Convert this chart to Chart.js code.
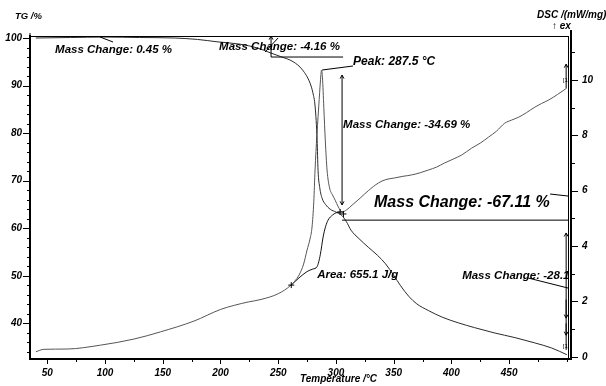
<!DOCTYPE html>
<html>
<head>
<meta charset="utf-8">
<script src="https://cdn.jsdelivr.net/npm/chart.js@4.4.0/dist/chart.umd.min.js"></script>
<style>
  html, body { margin: 0; padding: 0; background: #fff; }
</style>
</head>
<body>
<canvas id="c" width="606" height="386"></canvas>
<script>
// TG curve (temperature in °C, mass in %)
const tgTemp = [40, 70, 100, 130, 160, 180, 197, 217, 232, 243, 252, 263, 271, 277.6, 280, 282, 283.7, 284.5, 286, 288, 291, 295, 300, 305, 309, 313, 320, 328, 336, 343, 350, 356, 363, 370, 380, 392, 406, 420, 437, 455, 472, 487, 500];
const tgMass = [100.0, 100.1, 100.2, 100.1, 100.0, 99.7, 99.2, 98.7, 97.9, 96.9, 96.1, 95.0, 93.3, 90.5, 88.5, 85.5, 78.5, 72.2, 68.5, 66.3, 65.0, 64.0, 63.4, 62.7, 61.4, 59.6, 57.8, 56.0, 54.3, 52.5, 50.1, 47.9, 45.7, 44.1, 42.7, 41.3, 40.1, 39.1, 38.0, 37.0, 35.9, 34.8, 33.4];

// DSC curve (mW/mg)
const dscTemp = [40, 47, 67, 96, 125, 148, 177, 200, 212, 224, 235, 250, 261, 268, 272, 275, 277.5, 279.3, 280.8, 281.9, 283.5, 285.5, 287, 287.5, 288.3, 289.5, 290.8, 292.3, 294.5, 297, 299.3, 302, 305.3, 309, 314, 320.9, 328, 336.8, 343, 350.7, 358, 365.5, 373, 380.2, 387, 394, 402, 408.9, 417.6, 425, 432.3, 439, 446.2, 452, 458.4, 465, 472.3, 478, 484.4, 492, 500];
const dscValue = [0.18, 0.27, 0.28, 0.42, 0.64, 0.90, 1.29, 1.71, 1.86, 1.98, 2.07, 2.28, 2.59, 2.95, 3.35, 3.86, 4.25, 4.69, 5.6, 6.75, 8.0, 9.3, 10.2, 10.36, 10.1, 9.0, 7.8, 6.75, 6.1, 5.85, 5.66, 5.42, 5.23, 5.3, 5.48, 5.73, 6.0, 6.28, 6.4, 6.46, 6.52, 6.57, 6.65, 6.75, 6.85, 7.0, 7.15, 7.29, 7.54, 7.72, 7.94, 8.15, 8.44, 8.55, 8.66, 8.82, 9.02, 9.15, 9.28, 9.48, 9.71];

// peak integration baseline (sigmoid)
const baseTemp = [261.3, 268, 275, 280, 283.7, 286.5, 288.9, 291, 293.2, 297, 300, 303.6];
const baseValue = [2.59, 2.85, 3.08, 3.17, 3.26, 3.7, 4.33, 4.7, 4.94, 5.12, 5.2, 5.23];

// labelled ticks
const tempTicks = [50, 100, 150, 200, 250, 300, 350, 400, 450];
const tgTicks = [40, 50, 60, 70, 80, 90, 100];
const dscTicks = [0, 2, 4, 6, 8, 10];

const FONT = '"Liberation Sans", Arial, "DejaVu Sans", sans-serif';
const pts = (xs, ys) => xs.map((x, i) => ({ x: x, y: ys[i] }));

// annotation texts and marks, placed in data units
const notes = [
  { text: 'Mass Change: 0.45 %', t: 56.7, v: 97.5, ax: 'tg', size: 11.5 },
  { text: 'Mass Change: -4.16 %', t: 198.8, v: 98.1, ax: 'tg', size: 11.5 },
  { text: 'Peak: 287.5 \u00b0C', t: 314.8, v: 94.95, ax: 'tg', size: 12 },
  { text: 'Mass Change: -34.69 %', t: 306.2, v: 81.7, ax: 'tg', size: 11.5 },
  { text: 'Mass Change: -67.11 %', t: 333, v: 65.3, ax: 'tg', size: 16 },
  { text: 'Area: 655.1 J/g', t: 283.7, v: 50.3, ax: 'tg', size: 11.5 },
  { text: 'Mass Change: -28.1', t: 409.3, v: 49.9, ax: 'tg', size: 11.5 }
];
const marks = [
  { ax: 'tg', p: [[95.6, 100.21], [106.9, 99.16]] },
  { ax: 'tg', p: [[243.8, 96.0], [306.2, 96.0]] },
  { ax: 'tg', p: [[243.8, 96.0], [243.8, 100.4]], head: 'end' },
  { ax: 'tg', p: [[238.6, 97.06], [249.9, 100.0]] },
  { ax: 'tg', p: [[288.0, 93.27], [314.8, 94.11]] },
  { ax: 'tg', p: [[305.3, 92.2], [305.3, 64.9]], head: 'both' },
  { ax: 'tg', p: [[305.3, 61.7], [501, 61.7]] },
  { ax: 'tg', p: [[485.5, 67.19], [501, 66.77]] },
  { ax: 'tg', p: [[466.5, 49.53], [501, 47.42]] },
  { ax: 'tg', p: [[499.4, 34.4], [499.4, 59.0]], head: 'end' },
  { ax: 'tg', p: [[499.4, 45.0], [499.4, 41.1]], head: 'end' },
  { ax: 'tg', p: [[499.4, 40.0], [499.4, 37.5]], head: 'end' },
  { ax: 'tg', p: [[499.4, 89.5], [499.4, 94.5]], head: 'end' }
];
const crosses = [
  { ax: 'dsc', t: 261.3, v: 2.59 },
  { ax: 'dsc', t: 303.6, v: 5.23 },
  { ax: 'tg', t: 306.5, v: 63.0 }
];
const tags = [
  { text: '[1]', t: 496.5, v: 91.2, ax: 'tg' },
  { text: '[1]', t: 496.5, v: 35.2, ax: 'tg' }
];

function arrow(ctx, x1, y1, x2, y2) {
  const a = Math.atan2(y2 - y1, x2 - x1), s = 4;
  ctx.beginPath();
  ctx.moveTo(x2 - s * Math.cos(a - 0.5), y2 - s * Math.sin(a - 0.5));
  ctx.lineTo(x2, y2);
  ctx.lineTo(x2 - s * Math.cos(a + 0.5), y2 - s * Math.sin(a + 0.5));
  ctx.stroke();
}

const decor = {
  id: 'decor',
  afterDraw(chart) {
    const ctx = chart.ctx, a = chart.chartArea, sc = chart.scales;
    const X = v => sc.x.getPixelForValue(v);
    ctx.save();
    ctx.strokeStyle = '#000';
    ctx.fillStyle = '#000';
    ctx.lineWidth = 1;

    // frame: top line, second right axis line, extensions
    ctx.beginPath();
    ctx.moveTo(a.left, a.top + 0.5); ctx.lineTo(a.right, a.top + 0.5);
    ctx.moveTo(a.left, a.top - 3); ctx.lineTo(a.left, a.top);
    ctx.stroke();
    ctx.lineWidth = 2;
    ctx.beginPath();
    ctx.moveTo(a.right + 3, a.top - 6); ctx.lineTo(a.right + 3, a.bottom + 1);
    ctx.moveTo(a.left, a.bottom); ctx.lineTo(a.right + 4, a.bottom);
    ctx.stroke();

    // tick marks
    ctx.lineWidth = 1;
    ctx.beginPath();
    sc.x.ticks.forEach(t => {
      const p = Math.round(X(t.value)) + 0.5;
      const len = tempTicks.includes(t.value) ? 4 : 2;
      ctx.moveTo(p, a.bottom); ctx.lineTo(p, a.bottom + 1 + len);
    });
    sc.tg.ticks.forEach(t => {
      const p = Math.round(sc.tg.getPixelForValue(t.value)) + 0.5;
      const len = tgTicks.includes(t.value) ? 6 : 2;
      ctx.moveTo(a.left - 1, p); ctx.lineTo(a.left - 1 - len, p);
    });
    sc.dsc.ticks.forEach(t => {
      const p = Math.round(sc.dsc.getPixelForValue(t.value)) + 0.5;
      const len = dscTicks.includes(t.value) ? 6 : 3;
      ctx.moveTo(a.right + 4, p); ctx.lineTo(a.right + 4 + len, p);
    });
    ctx.stroke();

    // axis titles
    ctx.font = 'italic bold 9.5px ' + FONT;
    ctx.textBaseline = 'middle';
    ctx.textAlign = 'left';
    ctx.fillText('TG /%', 15, 16);
    ctx.font = 'italic bold 10px ' + FONT;
    ctx.fillText('DSC /(mW/mg)', 537, 15);
    ctx.fillText('\u2191 ex', 552, 26);
    ctx.fillText('Temperature /\u00b0C', 300, 379);

    // annotation marks
    marks.forEach(m => {
      const Y = v => sc[m.ax].getPixelForValue(v);
      const q = m.p.map(p => [X(p[0]), Y(p[1])]);
      ctx.beginPath();
      ctx.moveTo(q[0][0], q[0][1]); ctx.lineTo(q[1][0], q[1][1]);
      ctx.stroke();
      if (m.head === 'end' || m.head === 'both') arrow(ctx, q[0][0], q[0][1], q[1][0], q[1][1]);
      if (m.head === 'both') arrow(ctx, q[1][0], q[1][1], q[0][0], q[0][1]);
    });
    crosses.forEach(c => {
      const x = X(c.t), y = sc[c.ax].getPixelForValue(c.v);
      ctx.beginPath();
      ctx.moveTo(x - 3, y); ctx.lineTo(x + 3, y);
      ctx.moveTo(x, y - 3); ctx.lineTo(x, y + 3);
      ctx.stroke();
    });

    // annotation texts
    notes.forEach(n => {
      ctx.font = 'italic bold ' + n.size + 'px ' + FONT;
      ctx.fillText(n.text, X(n.t), sc[n.ax].getPixelForValue(n.v));
    });
    ctx.font = '6px ' + FONT;
    tags.forEach(n => ctx.fillText(n.text, X(n.t), sc[n.ax].getPixelForValue(n.v)));
    ctx.restore();
  }
};

const tickFont = { family: FONT, size: 10, style: 'italic', weight: 'bold' };

new Chart(document.getElementById('c'), {
  type: 'line',
  data: {
    datasets: [
      { label: 'TG', data: pts(tgTemp, tgMass), yAxisID: 'tg', borderColor: '#2a2a2a', borderWidth: 1, pointRadius: 0, cubicInterpolationMode: 'monotone' },
      { label: 'DSC', data: pts(dscTemp, dscValue), yAxisID: 'dsc', borderColor: '#555', borderWidth: 1, pointRadius: 0, cubicInterpolationMode: 'monotone' },
      { label: 'Baseline', data: pts(baseTemp, baseValue), yAxisID: 'dsc', borderColor: '#111', borderWidth: 1, pointRadius: 0, cubicInterpolationMode: 'monotone' }
    ]
  },
  options: {
    responsive: false,
    animation: false,
    devicePixelRatio: 1,
    layout: { padding: { top: 36, left: 0, right: 0, bottom: 0 } },
    plugins: { legend: { display: false }, tooltip: { enabled: false } },
    scales: {
      x: {
        type: 'linear', position: 'bottom', min: 35, max: 501,
        afterFit: s => { s.height = 27; },
        grid: { display: false, drawTicks: true, tickLength: 5 },
        border: { display: false },
        ticks: {
          stepSize: 25, includeBounds: false, autoSkip: false, maxRotation: 0,
          padding: 3, color: '#000', font: tickFont,
          callback: v => tempTicks.includes(v) ? String(v) : ''
        }
      },
      tg: {
        type: 'linear', position: 'left', min: 32.5, max: 100.42,
        afterFit: s => { s.width = 30; },
        grid: { display: false, drawTicks: true, tickLength: 6 },
        border: { display: true, color: '#000', width: 2 },
        ticks: {
          stepSize: 2, includeBounds: false, autoSkip: false,
          padding: 2, color: '#000', font: tickFont,
          callback: v => tgTicks.includes(v) ? String(v) : ''
        }
      },
      dsc: {
        type: 'linear', position: 'right', min: -0.08, max: 11.59,
        afterFit: s => { s.width = 38; },
        grid: { display: false, drawTicks: true, tickLength: 10 },
        border: { display: true, color: '#000', width: 1 },
        ticks: {
          stepSize: 1, includeBounds: false, autoSkip: false,
          padding: 4, color: '#000', font: tickFont,
          callback: v => dscTicks.includes(v) ? String(v) : ''
        }
      }
    }
  },
  plugins: [decor]
});
</script>
</body>
</html>
